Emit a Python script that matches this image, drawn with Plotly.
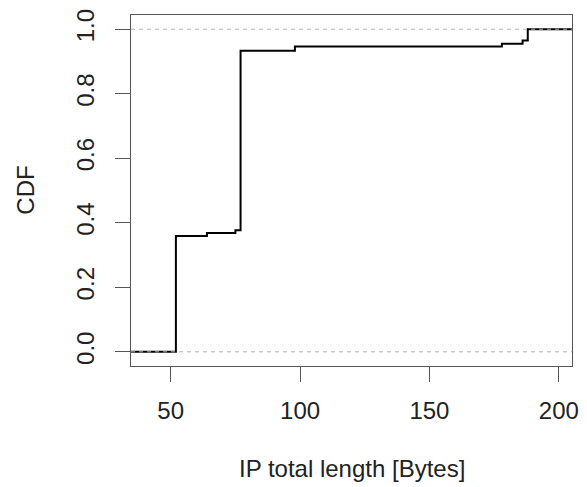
import plotly.graph_objects as go

# Empirical CDF of IP total length
lengths = [52, 64, 75, 77, 98, 178, 186, 188]
cdf_values = [0.359, 0.368, 0.377, 0.933, 0.946, 0.955, 0.965, 1.0]

x_ticks = [50, 100, 150, 200]
y_ticks = [0.0, 0.2, 0.4, 0.6, 0.8, 1.0]
y_tick_labels = ["0.0", "0.2", "0.4", "0.6", "0.8", "1.0"]

x_range = [34.65, 205.1]
y_range = [-0.044, 1.044]

FONT = "Liberation Sans, Arial, Helvetica, sans-serif"
TEXT_SIZE = 24

# step function extended to both ends of the axis
step_x = [x_range[0]] + lengths + [x_range[1]]
step_y = [0.0] + cdf_values + [cdf_values[-1]]

fig = go.Figure()
fig.add_trace(go.Scatter(
    x=step_x, y=step_y, mode="lines",
    line=dict(color="black", width=2, shape="hv"),
    hoverinfo="skip", showlegend=False,
))

# reference lines at 0 and 1
for level in (0.0, 1.0):
    fig.add_shape(type="line", xref="paper", x0=0, x1=1, yref="y", y0=level, y1=level,
                  line=dict(color="#b3b3b3", width=1, dash="4px,4px"), layer="above")

axis_common = dict(
    showgrid=False, zeroline=False, showline=True, mirror=True,
    linecolor="#555555", linewidth=1,
    ticks="outside", ticklen=15, tickwidth=1, tickcolor="#555555",
    tickfont=dict(family=FONT, size=TEXT_SIZE, color="#222222"),
)

fig.update_xaxes(range=x_range, tickvals=x_ticks, ticktext=[str(v) for v in x_ticks],
                 ticklabelstandoff=8, **axis_common)
fig.update_yaxes(range=y_range, tickvals=y_ticks, ticktext=y_tick_labels,
                 tickangle=-90, ticklabelstandoff=11, **axis_common)

fig.add_annotation(text="IP total length [Bytes]", xref="paper", yref="paper",
                   x=0.5, y=-0.2934, xanchor="center", yanchor="middle",
                   showarrow=False, font=dict(family=FONT, size=TEXT_SIZE, color="#222222"))
fig.add_annotation(text="CDF", xref="paper", yref="paper",
                   x=-0.24, y=0.5, xanchor="center", yanchor="middle", textangle=-90,
                   showarrow=False, font=dict(family=FONT, size=TEXT_SIZE, color="#222222"))

fig.update_layout(
    width=587, height=487,
    margin=dict(l=131, r=15, t=15, b=121, autoexpand=False),
    paper_bgcolor="white", plot_bgcolor="white",
)

fig.write_html("out.html")
